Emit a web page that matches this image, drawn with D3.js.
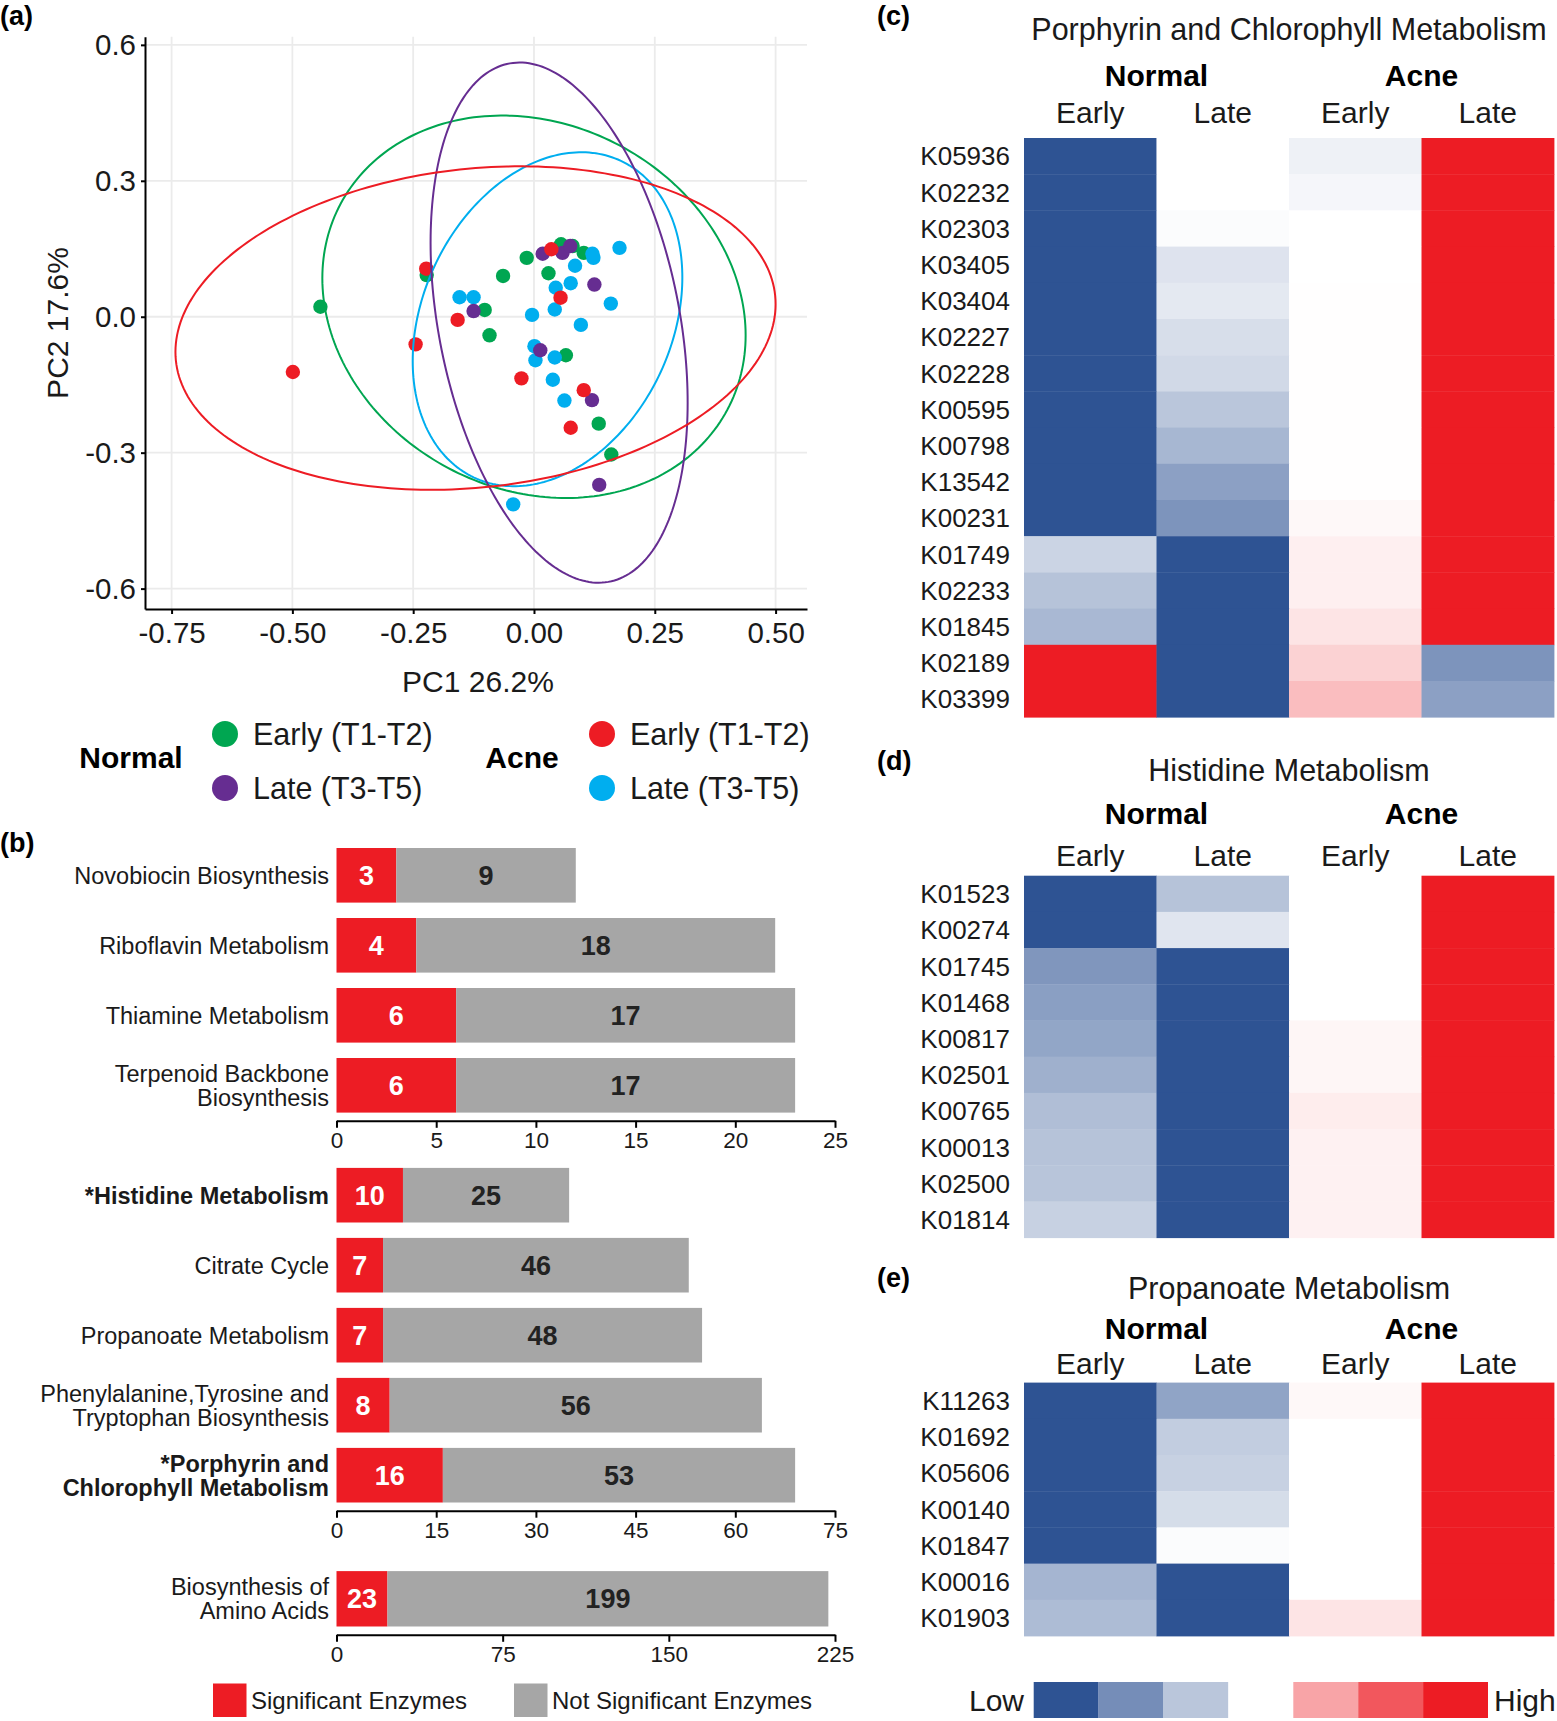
<!DOCTYPE html>
<html><head><meta charset="utf-8">
<script src="https://cdn.jsdelivr.net/npm/d3@7"></script>
<style>
body{margin:0;background:#fff;}
svg{display:block;font-family:"Liberation Sans",Arial,Helvetica,sans-serif;}
</style></head><body>
<svg id="fig" width="1557" height="1721"></svg>
<script>
// ================= DATA =================
// (a) PCA scores [PC1, PC2]
const pcaNormalEarly = [[-0.442,0.022],[-0.222,0.092],[-0.064,0.090],[-0.015,0.130],[0.030,0.096],[-0.102,0.015],[-0.092,-0.041],[0.056,0.160],[0.080,0.156],[0.103,0.141],[0.066,-0.085],[0.134,-0.236],[0.160,-0.304]];
const pcaNormalLate = [[-0.125,0.0125],[0.018,0.139],[0.059,0.141],[0.075,0.156],[0.125,0.071],[0.013,-0.074],[0.120,-0.184],[0.135,-0.371]];
const pcaAcneLate = [[-0.154,0.043],[-0.125,0.043],[-0.004,0.004],[0.043,0.016],[0.045,0.064],[0.076,0.074],[0.085,0.1125],[0.121,0.139],[0.123,0.130],[0.177,0.152],[0.159,0.029],[0.097,-0.018],[0.001,-0.065],[0.003,-0.096],[0.043,-0.090],[0.039,-0.139],[0.063,-0.185],[-0.043,-0.414]];
const pcaAcneEarly = [[-0.499,-0.122],[-0.223,0.106],[-0.158,-0.007],[-0.245,-0.061],[0.036,0.149],[0.055,0.042],[-0.026,-0.136],[0.103,-0.162],[0.076,-0.245]];
// confidence ellipses: [centre PC1, centre PC2, half-extent PC1, half-extent PC2, phase deg]
const ellNormalEarly = [0.000, 0.022, 0.438, 0.422, 98.6];
const ellNormalLate  = [0.052, -0.013, 0.266, 0.574, 107.9];
const ellAcneEarly   = [-0.121, -0.025, 0.621, 0.357, 81.5];
const ellAcneLate    = [0.028, -0.0055, 0.279, 0.3685, 75.5];
const pcaXTicks = [-0.75,-0.5,-0.25,0,0.25,0.5];
const pcaYTicks = [-0.6,-0.3,0,0.3,0.6];
const groupLabels = ["Early (T1-T2)","Late (T3-T5)"];

// (b) enzyme counts
const bar1Cats = ["Novobiocin Biosynthesis","Riboflavin Metabolism","Thiamine Metabolism","Terpenoid Backbone\nBiosynthesis"];
const bar1Sig = [3,4,6,6];
const bar1NotSig = [9,18,17,17];
const bar1Ticks = [0,5,10,15,20,25];
const bar2Cats = ["*Histidine Metabolism","Citrate Cycle","Propanoate Metabolism","Phenylalanine,Tyrosine and\nTryptophan Biosynthesis","*Porphyrin and\nChlorophyll Metabolism"];
const bar2Sig = [10,7,7,8,16];
const bar2NotSig = [25,46,48,56,53];
const bar2Ticks = [0,15,30,45,60,75];
const bar3Cats = ["Biosynthesis of\nAmino Acids"];
const bar3Sig = [23];
const bar3NotSig = [199];
const bar3Ticks = [0,75,150,225];

// (c)-(e) heatmaps; columns: Normal Early, Normal Late, Acne Early, Acne Late; -1 low ... 1 high
const hmCols = ["NE","NL","AE","AL"];
const hmSubLabels = ["Early","Late","Early","Late"];
const porphyrinGenes = ["K05936","K02232","K02303","K03405","K03404","K02227","K02228","K00595","K00798","K13542","K00231","K01749","K02233","K01845","K02189","K03399"];
const porphyrinValues = [
 [-1,0,-0.08,1],[-1,0,-0.05,1],[-1,-0.02,0,1],[-1,-0.16,0,1],[-1,-0.13,0.005,1],[-1,-0.19,0.005,1],
 [-1,-0.22,0.005,1],[-1,-0.33,0.005,1],[-1,-0.42,0.005,1],[-1,-0.55,0.005,1],[-1,-0.62,0.03,1],
 [-0.25,-1,0.07,1],[-0.35,-1,0.07,1],[-0.41,-1,0.12,1],[1,-1,0.2,-0.62],[1,-1,0.29,-0.55]];
const histidineGenes = ["K01523","K00274","K01745","K01468","K00817","K02501","K00765","K00013","K02500","K01814"];
const histidineValues = [
 [-1,-0.35,0,1],[-1,-0.15,0,1],[-0.61,-1,0,1],[-0.56,-1,0,1],[-0.52,-1,0.04,1],
 [-0.46,-1,0.04,1],[-0.38,-1,0.08,1],[-0.35,-1,0.06,1],[-0.34,-1,0.06,1],[-0.27,-1,0.06,1]];
const propanoateGenes = ["K11263","K01692","K05606","K00140","K01847","K00016","K01903"];
const propanoateValues = [
 [-1,-0.53,0.03,1],[-1,-0.29,0,1],[-1,-0.27,0,1],[-1,-0.2,0,1],[-1,-0.02,0,1],[-0.43,-1,0,1],[-0.39,-1,0.12,1]];
const legendSteps = [-1,-0.66,-0.33,0,0.4,0.74,1];

// ================= DRAWING =================
const C = {green:"#00A651", purple:"#662D91", red:"#ED1C24", blue:"#00AEEF", gray:"#A6A6A6", dblue:"#2E5393"};
const svg = d3.select("#fig");
const ink = "#1a1a1a";

function panelLabel(t,x,y){ svg.append("text").attr("x",x).attr("y",y).attr("font-size",27).attr("font-weight","bold").attr("fill","#000").text(t); }
panelLabel("(a)",0,25); panelLabel("(b)",0,852); panelLabel("(c)",877,25); panelLabel("(d)",877,770); panelLabel("(e)",877,1287);

// ---------- (a) PCA ----------
const xP = d3.scaleLinear().domain([-0.805,0.565]).range([145,807]);
const yP = d3.scaleLinear().domain([-0.645,0.618]).range([609,36.7]);
const gA = svg.append("g");
gA.selectAll(".gx").data(pcaXTicks).join("line").attr("x1",d=>xP(d)).attr("x2",d=>xP(d))
  .attr("y1",yP.range()[1]).attr("y2",yP.range()[0]).attr("stroke","#EBEBEB").attr("stroke-width",1.8);
gA.selectAll(".gy").data(pcaYTicks).join("line").attr("y1",d=>yP(d)).attr("y2",d=>yP(d))
  .attr("x1",xP.range()[0]).attr("x2",xP.range()[1]).attr("stroke","#EBEBEB").attr("stroke-width",1.8);

const pcaGroups = [
  {pts:pcaNormalEarly, ell:ellNormalEarly, col:C.green},
  {pts:pcaAcneLate, ell:ellAcneLate, col:C.blue},
  {pts:pcaNormalLate, ell:ellNormalLate, col:C.purple},
  {pts:pcaAcneEarly, ell:ellAcneEarly, col:C.red}
];
pcaGroups.forEach(g=>{
  gA.append("g").selectAll("circle").data(g.pts).join("circle")
    .attr("cx",d=>xP(d[0])).attr("cy",d=>yP(d[1])).attr("r",7.2).attr("fill",g.col);
});
const ellLine = d3.line().x(d=>xP(d[0])).y(d=>yP(d[1])).curve(d3.curveLinearClosed);
function ellipsePts(p){
  const [cx,cy,A,B,ph]=p; const phi=ph*Math.PI/180;
  return d3.range(0,360,1.5).map(t=>{const r=t*Math.PI/180; return [cx+A*Math.cos(r), cy+B*Math.cos(r-phi)];});
}
pcaGroups.forEach(g=>{
  gA.append("path").attr("d",ellLine(ellipsePts(g.ell))).attr("fill","none").attr("stroke",g.col).attr("stroke-width",2);
});
function styleAxis(sel,fs){
  sel.attr("font-family",null).attr("font-size",null);
  sel.select(".domain").attr("stroke","#000").attr("stroke-width",2);
  sel.selectAll(".tick line").attr("stroke","#000").attr("stroke-width",2);
  sel.selectAll(".tick text").attr("fill",ink).attr("font-size",fs);
}
gA.append("g").attr("transform","translate(0,609)")
  .call(d3.axisBottom(xP).tickValues(pcaXTicks).tickFormat(d=>d.toFixed(2)).tickSize(5).tickPadding(8).tickSizeOuter(0))
  .call(s=>styleAxis(s,29.5));
gA.append("g").attr("transform","translate(145,0)")
  .call(d3.axisLeft(yP).tickValues(pcaYTicks).tickFormat(d=>d.toFixed(1)).tickSize(4).tickPadding(5).tickSizeOuter(0))
  .call(s=>styleAxis(s,29.5));
gA.append("text").attr("x",478).attr("y",692).attr("text-anchor","middle").attr("font-size",30).attr("fill",ink).text("PC1 26.2%");
gA.append("text").attr("transform","translate(68,323) rotate(-90)").attr("text-anchor","middle").attr("font-size",30).attr("fill",ink).text("PC2 17.6%");

// legend (a)
const legA = svg.append("g");
[{name:"Normal",cx:131,dx:225,cols:[C.green,C.purple]},{name:"Acne",cx:522,dx:602,cols:[C.red,C.blue]}].forEach(L=>{
  legA.append("text").attr("x",L.cx).attr("y",768).attr("text-anchor","middle").attr("font-size",30).attr("font-weight","bold").attr("fill","#000").text(L.name);
  L.cols.forEach((c,i)=>{
    const cy = 734 + i*54;
    legA.append("circle").attr("cx",L.dx).attr("cy",cy).attr("r",13).attr("fill",c);
    legA.append("text").attr("x",L.dx+28).attr("y",cy+11).attr("font-size",30.5).attr("fill",ink).text(groupLabels[i]);
  });
});

// ---------- (b) stacked bars ----------
function barGroup(cats, sig, notSig, ticks, yRange){
  const g = svg.append("g");
  const x = d3.scaleLinear().domain([0,ticks[ticks.length-1]]).range([336.5,835]);
  const y = d3.scaleBand().domain(cats).range(yRange).paddingInner(0.22).paddingOuter(0.11);
  const rows = cats.map((c,i)=>({c, s:sig[i], n:notSig[i]}));
  g.selectAll(".rs").data(rows).join("rect").attr("x",x(0)).attr("y",d=>y(d.c)).attr("width",d=>x(d.s)-x(0)).attr("height",y.bandwidth()).attr("fill",C.red);
  g.selectAll(".rn").data(rows).join("rect").attr("x",d=>x(d.s)).attr("y",d=>y(d.c)).attr("width",d=>x(d.s+d.n)-x(d.s)).attr("height",y.bandwidth()).attr("fill",C.gray);
  g.selectAll(".ts").data(rows).join("text").attr("x",d=>x(d.s/2)).attr("y",d=>y(d.c)+y.bandwidth()/2+9.5)
    .attr("text-anchor","middle").attr("font-size",27).attr("font-weight","bold").attr("fill","#fff").text(d=>d.s);
  g.selectAll(".tn").data(rows).join("text").attr("x",d=>x(d.s+d.n/2)).attr("y",d=>y(d.c)+y.bandwidth()/2+9.5)
    .attr("text-anchor","middle").attr("font-size",27).attr("font-weight","bold").attr("fill","#222").text(d=>d.n);
  rows.forEach(d=>{
    const lines = d.c.split("\n"); const bold = d.c.startsWith("*");
    const yc = y(d.c)+y.bandwidth()/2;
    const t = g.append("text").attr("text-anchor","end").attr("font-size",23.5)
      .attr("font-weight",bold?"bold":"normal").attr("fill",ink);
    lines.forEach((ln,j)=>{
      t.append("tspan").attr("x",329).attr("y",yc + (j-(lines.length-1)/2)*24 + 8.5).text(ln);
    });
  });
  g.append("g").attr("transform",`translate(0,${yRange[1]+0.5})`)
    .call(d3.axisBottom(x).tickValues(ticks).tickSize(7).tickPadding(4).tickSizeOuter(0))
    .call(s=>styleAxis(s,22.5));
}
barGroup(bar1Cats,bar1Sig,bar1NotSig,bar1Ticks,[840.3,1120.3]);
barGroup(bar2Cats,bar2Sig,bar2NotSig,bar2Ticks,[1160.2,1510.2]);
barGroup(bar3Cats,bar3Sig,bar3NotSig,bar3Ticks,[1563.3,1634.3]);
// bar legend
[{x:213,c:C.red,t:"Significant Enzymes"},{x:514,c:C.gray,t:"Not Significant Enzymes"}].forEach(L=>{
  svg.append("rect").attr("x",L.x).attr("y",1683.5).attr("width",33.5).attr("height",33.5).attr("fill",L.c);
  svg.append("text").attr("x",L.x+38).attr("y",1708.5).attr("font-size",24).attr("fill",ink).text(L.t);
});

// ---------- (c)-(e) heatmaps ----------
const hmColor = d3.scaleLinear().domain([-1,0,1]).range([C.dblue,"#FFFFFF",C.red]);
const xH = d3.scaleBand().domain(hmCols).range([1024,1554]);
const ROWH = 36.2;
function heatmap(genes, values, title, yTop, titleY, grpY, subY){
  const g = svg.append("g");
  const y = d3.scaleBand().domain(genes).range([yTop, yTop+genes.length*ROWH]);
  const cells = [];
  genes.forEach((k,i)=>hmCols.forEach((c,j)=>cells.push({k,c,v:values[i][j]})));
  g.selectAll("rect").data(cells).join("rect").attr("x",d=>xH(d.c)).attr("y",d=>y(d.k))
    .attr("width",xH.bandwidth()+0.4).attr("height",y.bandwidth()+0.4).attr("fill",d=>hmColor(d.v));
  g.selectAll(".rl").data(genes).join("text").attr("x",1010).attr("y",d=>y(d)+y.bandwidth()/2+9.3)
    .attr("text-anchor","end").attr("font-size",26).attr("fill",ink).text(d=>d);
  g.append("text").attr("x",1289).attr("y",titleY).attr("text-anchor","middle").attr("font-size",30.5).attr("fill",ink).text(title);
  g.append("text").attr("x",xH("NL")).attr("y",grpY).attr("text-anchor","middle").attr("font-size",30).attr("font-weight","bold").attr("fill","#000").text("Normal");
  g.append("text").attr("x",xH("AL")).attr("y",grpY).attr("text-anchor","middle").attr("font-size",30).attr("font-weight","bold").attr("fill","#000").text("Acne");
  hmCols.forEach((c,j)=>{
    g.append("text").attr("x",xH(c)+xH.bandwidth()/2).attr("y",subY).attr("text-anchor","middle").attr("font-size",30).attr("fill",ink).text(hmSubLabels[j]);
  });
}
heatmap(porphyrinGenes, porphyrinValues, "Porphyrin and Chlorophyll Metabolism", 138, 40, 86, 123);
heatmap(histidineGenes, histidineValues, "Histidine Metabolism", 875.7, 781, 824, 866);
heatmap(propanoateGenes, propanoateValues, "Propanoate Metabolism", 1382.6, 1299, 1339, 1374);

// colour legend
const xL = d3.scaleBand().domain(d3.range(legendSteps.length)).range([1033.7,1488]);
svg.append("g").selectAll("rect").data(legendSteps).join("rect").attr("x",(d,i)=>xL(i)).attr("y",1682)
  .attr("width",xL.bandwidth()).attr("height",36).attr("fill",d=>hmColor(d));
svg.append("text").attr("x",1024).attr("y",1711).attr("text-anchor","end").attr("font-size",30).attr("fill",ink).text("Low");
svg.append("text").attr("x",1494).attr("y",1711).attr("font-size",30).attr("fill",ink).text("High");
</script>
</body></html>
